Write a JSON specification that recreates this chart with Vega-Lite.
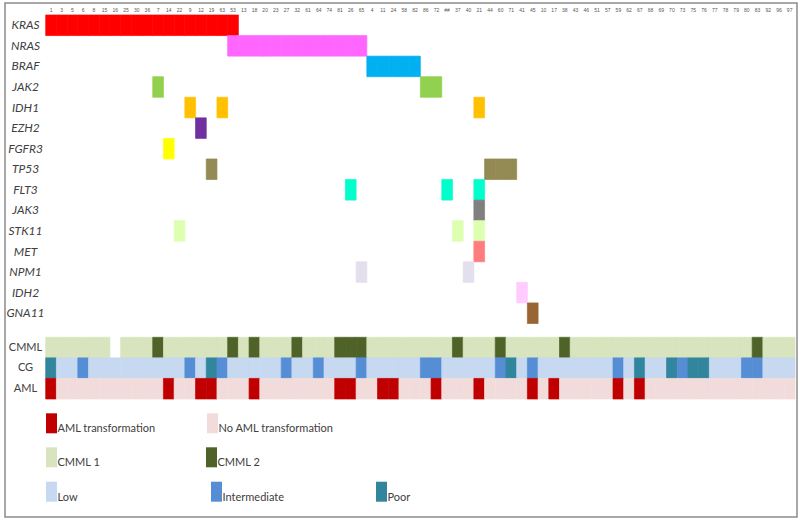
{
  "$schema": "https://vega.github.io/schema/vega-lite/v6.json",
  "width": 792,
  "height": 514,
  "autosize": {"type": "none"},
  "padding": {"left": 5, "top": 3, "right": 3, "bottom": 7},
  "background": "white",
  "config": {
    "view": {"stroke": "#8c8c8c", "strokeWidth": 1.5},
    "font": "Lato",
    "legend": {
      "title": null,
      "orient": "none",
      "direction": "horizontal",
      "symbolType": "M-0.55,-1H0.55V1H-0.55Z",
      "symbolSize": 400,
      "symbolStrokeWidth": 0,
      "symbolOpacity": 1,
      "labelOffset": -4,
      "labelFont": "Lato",
      "labelFontSize": 11,
      "labelColor": "#404040",
      "labelBaseline": "top",
      "gridAlign": "all",
      "labelLimit": 300
    }
  },
  "datasets": {
    "patients": [
      {"p": "1", "cmml": "CMML 1", "cg": "Poor", "aml": "AML transformation"},
      {"p": "3", "cmml": "CMML 1", "cg": "Low", "aml": "No AML transformation"},
      {"p": "5", "cmml": "CMML 1", "cg": "Low", "aml": "No AML transformation"},
      {"p": "6", "cmml": "CMML 1", "cg": "Intermediate", "aml": "No AML transformation"},
      {"p": "8", "cmml": "CMML 1", "cg": "Low", "aml": "No AML transformation"},
      {"p": "15", "cmml": "CMML 1", "cg": "Low", "aml": "No AML transformation"},
      {"p": "16", "cmml": null, "cg": "Low", "aml": "No AML transformation"},
      {"p": "25", "cmml": "CMML 1", "cg": "Low", "aml": "No AML transformation"},
      {"p": "30", "cmml": "CMML 1", "cg": "Low", "aml": "No AML transformation"},
      {"p": "36", "cmml": "CMML 1", "cg": "Low", "aml": "No AML transformation"},
      {"p": "7", "cmml": "CMML 2", "cg": "Low", "aml": "No AML transformation"},
      {"p": "14", "cmml": "CMML 1", "cg": "Low", "aml": "AML transformation"},
      {"p": "22", "cmml": "CMML 1", "cg": "Low", "aml": "No AML transformation"},
      {"p": "9", "cmml": "CMML 1", "cg": "Intermediate", "aml": "No AML transformation"},
      {"p": "12", "cmml": "CMML 1", "cg": "Low", "aml": "AML transformation"},
      {"p": "19", "cmml": "CMML 1", "cg": "Poor", "aml": "AML transformation"},
      {"p": "63", "cmml": "CMML 1", "cg": "Intermediate", "aml": "No AML transformation"},
      {"p": "53", "cmml": "CMML 2", "cg": "Low", "aml": "No AML transformation"},
      {"p": "13", "cmml": "CMML 1", "cg": "Low", "aml": "No AML transformation"},
      {"p": "18", "cmml": "CMML 2", "cg": "Low", "aml": "AML transformation"},
      {"p": "20", "cmml": "CMML 1", "cg": "Low", "aml": "No AML transformation"},
      {"p": "23", "cmml": "CMML 1", "cg": "Low", "aml": "No AML transformation"},
      {"p": "27", "cmml": "CMML 1", "cg": "Intermediate", "aml": "No AML transformation"},
      {"p": "32", "cmml": "CMML 2", "cg": "Low", "aml": "No AML transformation"},
      {"p": "61", "cmml": "CMML 1", "cg": "Low", "aml": "No AML transformation"},
      {"p": "64", "cmml": "CMML 1", "cg": "Intermediate", "aml": "No AML transformation"},
      {"p": "74", "cmml": "CMML 1", "cg": "Low", "aml": "No AML transformation"},
      {"p": "81", "cmml": "CMML 2", "cg": "Low", "aml": "AML transformation"},
      {"p": "26", "cmml": "CMML 2", "cg": "Low", "aml": "AML transformation"},
      {"p": "65", "cmml": "CMML 2", "cg": "Intermediate", "aml": "No AML transformation"},
      {"p": "4", "cmml": "CMML 1", "cg": "Low", "aml": "No AML transformation"},
      {"p": "11", "cmml": "CMML 1", "cg": "Low", "aml": "AML transformation"},
      {"p": "24", "cmml": "CMML 1", "cg": "Low", "aml": "AML transformation"},
      {"p": "58", "cmml": "CMML 1", "cg": "Low", "aml": "No AML transformation"},
      {"p": "82", "cmml": "CMML 1", "cg": "Low", "aml": "No AML transformation"},
      {"p": "86", "cmml": "CMML 1", "cg": "Intermediate", "aml": "No AML transformation"},
      {"p": "72", "cmml": "CMML 1", "cg": "Intermediate", "aml": "AML transformation"},
      {"p": "##", "cmml": "CMML 1", "cg": "Low", "aml": "No AML transformation"},
      {"p": "37", "cmml": "CMML 2", "cg": "Low", "aml": "No AML transformation"},
      {"p": "40", "cmml": "CMML 1", "cg": "Low", "aml": "No AML transformation"},
      {"p": "21", "cmml": "CMML 1", "cg": "Low", "aml": "AML transformation"},
      {"p": "44", "cmml": "CMML 1", "cg": "Low", "aml": "No AML transformation"},
      {"p": "60", "cmml": "CMML 2", "cg": "Intermediate", "aml": "No AML transformation"},
      {"p": "71", "cmml": "CMML 1", "cg": "Poor", "aml": "No AML transformation"},
      {"p": "41", "cmml": "CMML 1", "cg": "Low", "aml": "No AML transformation"},
      {"p": "45", "cmml": "CMML 1", "cg": "Intermediate", "aml": "AML transformation"},
      {"p": "10", "cmml": "CMML 1", "cg": "Low", "aml": "No AML transformation"},
      {"p": "17", "cmml": "CMML 1", "cg": "Low", "aml": "AML transformation"},
      {"p": "38", "cmml": "CMML 2", "cg": "Low", "aml": "No AML transformation"},
      {"p": "43", "cmml": "CMML 1", "cg": "Low", "aml": "No AML transformation"},
      {"p": "46", "cmml": "CMML 1", "cg": "Low", "aml": "No AML transformation"},
      {"p": "51", "cmml": "CMML 1", "cg": "Low", "aml": "No AML transformation"},
      {"p": "57", "cmml": "CMML 1", "cg": "Low", "aml": "No AML transformation"},
      {"p": "59", "cmml": "CMML 1", "cg": "Intermediate", "aml": "AML transformation"},
      {"p": "62", "cmml": "CMML 1", "cg": "Low", "aml": "No AML transformation"},
      {"p": "67", "cmml": "CMML 1", "cg": "Poor", "aml": "AML transformation"},
      {"p": "68", "cmml": "CMML 1", "cg": "Low", "aml": "No AML transformation"},
      {"p": "69", "cmml": "CMML 1", "cg": "Low", "aml": "No AML transformation"},
      {"p": "70", "cmml": "CMML 1", "cg": "Poor", "aml": "No AML transformation"},
      {"p": "73", "cmml": "CMML 1", "cg": "Intermediate", "aml": "No AML transformation"},
      {"p": "75", "cmml": "CMML 1", "cg": "Poor", "aml": "No AML transformation"},
      {"p": "76", "cmml": "CMML 1", "cg": "Poor", "aml": "No AML transformation"},
      {"p": "77", "cmml": "CMML 1", "cg": "Low", "aml": "No AML transformation"},
      {"p": "78", "cmml": "CMML 1", "cg": "Low", "aml": "No AML transformation"},
      {"p": "79", "cmml": "CMML 1", "cg": "Low", "aml": "No AML transformation"},
      {"p": "80", "cmml": "CMML 1", "cg": "Intermediate", "aml": "No AML transformation"},
      {"p": "83", "cmml": "CMML 2", "cg": "Intermediate", "aml": "No AML transformation"},
      {"p": "92", "cmml": "CMML 1", "cg": "Low", "aml": "No AML transformation"},
      {"p": "96", "cmml": "CMML 1", "cg": "Low", "aml": "No AML transformation"},
      {"p": "97", "cmml": "CMML 1", "cg": "Low", "aml": "No AML transformation"}
    ],
    "mutations": [
      {"p": "1", "gene": "KRAS"}, {"p": "3", "gene": "KRAS"}, {"p": "5", "gene": "KRAS"},
      {"p": "6", "gene": "KRAS"}, {"p": "8", "gene": "KRAS"}, {"p": "15", "gene": "KRAS"},
      {"p": "16", "gene": "KRAS"}, {"p": "25", "gene": "KRAS"}, {"p": "30", "gene": "KRAS"},
      {"p": "36", "gene": "KRAS"}, {"p": "7", "gene": "KRAS"}, {"p": "14", "gene": "KRAS"},
      {"p": "22", "gene": "KRAS"}, {"p": "9", "gene": "KRAS"}, {"p": "12", "gene": "KRAS"},
      {"p": "19", "gene": "KRAS"}, {"p": "63", "gene": "KRAS"}, {"p": "53", "gene": "KRAS"},
      {"p": "53", "gene": "NRAS"}, {"p": "13", "gene": "NRAS"}, {"p": "18", "gene": "NRAS"},
      {"p": "20", "gene": "NRAS"}, {"p": "23", "gene": "NRAS"}, {"p": "27", "gene": "NRAS"},
      {"p": "32", "gene": "NRAS"}, {"p": "61", "gene": "NRAS"}, {"p": "64", "gene": "NRAS"},
      {"p": "74", "gene": "NRAS"}, {"p": "81", "gene": "NRAS"}, {"p": "26", "gene": "NRAS"},
      {"p": "65", "gene": "NRAS"},
      {"p": "4", "gene": "BRAF"}, {"p": "11", "gene": "BRAF"}, {"p": "24", "gene": "BRAF"},
      {"p": "58", "gene": "BRAF"}, {"p": "82", "gene": "BRAF"},
      {"p": "7", "gene": "JAK2"}, {"p": "86", "gene": "JAK2"}, {"p": "72", "gene": "JAK2"},
      {"p": "9", "gene": "IDH1"}, {"p": "63", "gene": "IDH1"}, {"p": "21", "gene": "IDH1"},
      {"p": "12", "gene": "EZH2"},
      {"p": "14", "gene": "FGFR3"},
      {"p": "19", "gene": "TP53"}, {"p": "44", "gene": "TP53"}, {"p": "60", "gene": "TP53"},
      {"p": "71", "gene": "TP53"},
      {"p": "26", "gene": "FLT3"}, {"p": "##", "gene": "FLT3"}, {"p": "21", "gene": "FLT3"},
      {"p": "21", "gene": "JAK3"},
      {"p": "22", "gene": "STK11"}, {"p": "37", "gene": "STK11"}, {"p": "21", "gene": "STK11"},
      {"p": "21", "gene": "MET"},
      {"p": "65", "gene": "NPM1"}, {"p": "40", "gene": "NPM1"},
      {"p": "41", "gene": "IDH2"},
      {"p": "45", "gene": "GNA11"}
    ]
  },
  "encoding": {
    "x": {
      "field": "p",
      "type": "nominal",
      "scale": {
        "domain": ["1","3","5","6","8","15","16","25","30","36","7","14","22","9","12","19","63","53","13","18","20","23","27","32","61","64","74","81","26","65","4","11","24","58","82","86","72","##","37","40","21","44","60","71","41","45","10","17","38","43","46","51","57","59","62","67","68","69","70","73","75","76","77","78","79","80","83","92","96","97"],
        "range": [40.7, 790],
        "paddingInner": 0,
        "paddingOuter": 0
      },
      "axis": {
        "orient": "top",
        "title": null,
        "ticks": false,
        "domain": false,
        "labelAngle": 0,
        "labelFontSize": 5,
        "labelFont": "Liberation Sans",
        "labelColor": "#555555",
        "labelPadding": 1,
        "labelOverlap": false,
        "offset": -10
      }
    }
  },
  "layer": [
    {
      "data": {"name": "mutations"},
      "mark": {"type": "rect", "strokeWidth": 0.7},
      "encoding": {
        "y": {
          "field": "gene",
          "type": "nominal",
          "scale": {
            "domain": ["KRAS","NRAS","BRAF","JAK2","IDH1","EZH2","FGFR3","TP53","FLT3","JAK3","STK11","MET","NPM1","IDH2","GNA11"],
            "range": [12, 320.5],
            "paddingInner": 0,
            "paddingOuter": 0
          },
          "axis": {
            "orient": "left",
            "title": null,
            "ticks": false,
            "domain": false,
            "labelFontStyle": "italic",
            "labelFontSize": 12,
            "labelColor": "#404040",
            "labelAlign": "center",
            "labelPadding": 0,
            "offset": -20
          }
        },
        "color": {
          "field": "gene",
          "type": "nominal",
          "scale": {
            "domain": ["KRAS","NRAS","BRAF","JAK2","IDH1","EZH2","FGFR3","TP53","FLT3","JAK3","STK11","MET","NPM1","IDH2","GNA11"],
            "range": ["#ff0000","#ff66ff","#00b0f0","#92d050","#ffc000","#7030a0","#ffff00","#948a54","#00ffcc","#808080","#ddffb0","#ff7c80","#e4dfec","#ffccff","#996633"]
          },
          "legend": null
        },
        "stroke": {
          "field": "gene",
          "type": "nominal",
          "scale": {
            "domain": ["KRAS","NRAS","BRAF","JAK2","IDH1","EZH2","FGFR3","TP53","FLT3","JAK3","STK11","MET","NPM1","IDH2","GNA11"],
            "range": ["#ff0000","#ff66ff","#00b0f0","#92d050","#ffc000","#7030a0","#ffff00","#948a54","#00ffcc","#808080","#ddffb0","#ff7c80","#e4dfec","#ffccff","#996633"]
          },
          "legend": null
        }
      }
    },
    {
      "data": {"name": "patients"},
      "transform": [{"filter": "datum.cmml != null"}],
      "mark": {"type": "rect", "strokeWidth": 0.7},
      "encoding": {
        "y": {
          "datum": "CMML",
          "type": "nominal",
          "scale": {"domain": ["CMML","CG","AML"], "range": [334.3, 396], "paddingInner": 0, "paddingOuter": 0},
          "axis": {
            "orient": "left",
            "title": null,
            "ticks": false,
            "domain": false,
            "labelFontSize": 11,
            "labelColor": "#404040",
            "labelAlign": "center",
            "labelPadding": 0,
            "offset": -20
          }
        },
        "color": {
          "field": "cmml",
          "type": "nominal",
          "scale": {"domain": ["CMML 1","CMML 2"], "range": ["#d7e4bd","#4f6228"]},
          "legend": {"legendX": 36.5, "legendY": 444.3, "columns": 2, "columnPadding": 101}
        },
        "stroke": {
          "field": "cmml",
          "type": "nominal",
          "scale": {"domain": ["CMML 1","CMML 2"], "range": ["#d7e4bd","#4f6228"]},
          "legend": null
        }
      }
    },
    {
      "data": {"name": "patients"},
      "mark": {"type": "rect", "strokeWidth": 0.7},
      "encoding": {
        "y": {
          "datum": "CG",
          "type": "nominal",
          "scale": {"domain": ["CMML","CG","AML"], "range": [334.3, 396], "paddingInner": 0, "paddingOuter": 0},
          "axis": null
        },
        "color": {
          "field": "cg",
          "type": "nominal",
          "scale": {"domain": ["Low","Intermediate","Poor"], "range": ["#c6d9f1","#558ed5","#31859c"]},
          "legend": {"legendX": 36.5, "legendY": 478.7, "columns": 3, "columnPadding": 87}
        },
        "stroke": {
          "field": "cg",
          "type": "nominal",
          "scale": {"domain": ["Low","Intermediate","Poor"], "range": ["#c6d9f1","#558ed5","#31859c"]},
          "legend": null
        }
      }
    },
    {
      "data": {"name": "patients"},
      "mark": {"type": "rect", "strokeWidth": 0.7},
      "encoding": {
        "y": {
          "datum": "AML",
          "type": "nominal",
          "scale": {"domain": ["CMML","CG","AML"], "range": [334.3, 396], "paddingInner": 0, "paddingOuter": 0},
          "axis": null
        },
        "color": {
          "field": "aml",
          "type": "nominal",
          "scale": {"domain": ["AML transformation","No AML transformation"], "range": ["#c00000","#f2dcdb"]},
          "legend": {"legendX": 36.5, "legendY": 410.3, "columns": 2, "columnPadding": 29}
        },
        "stroke": {
          "field": "aml",
          "type": "nominal",
          "scale": {"domain": ["AML transformation","No AML transformation"], "range": ["#c00000","#f2dcdb"]},
          "legend": null
        }
      }
    }
  ],
  "resolve": {
    "scale": {"y": "independent", "color": "independent", "stroke": "independent"},
    "axis": {"y": "independent"},
    "legend": {"color": "independent", "stroke": "independent"}
  }
}
